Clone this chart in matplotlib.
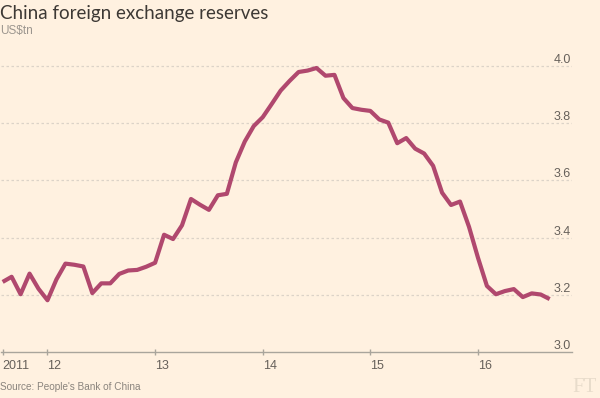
import matplotlib
matplotlib.use("Agg")
import matplotlib.pyplot as plt
from matplotlib import font_manager
import matplotlib.transforms as mtransforms

# China FX reserves, US$tn, month-end, Jul 2011 - Aug 2016
reserves = [
    3.245, 3.263, 3.202, 3.274, 3.221, 3.181,
    3.254, 3.309, 3.305, 3.299, 3.206, 3.240, 3.240, 3.273, 3.285, 3.287, 3.298, 3.312,
    3.410, 3.395, 3.443, 3.535, 3.515, 3.497, 3.548, 3.553, 3.663, 3.736, 3.790, 3.821,
    3.867, 3.914, 3.948, 3.979, 3.984, 3.993, 3.966, 3.969, 3.888, 3.853, 3.847, 3.843,
    3.813, 3.802, 3.730, 3.748, 3.711, 3.694, 3.651, 3.557, 3.514, 3.526, 3.438, 3.330,
    3.231, 3.202, 3.213, 3.220, 3.192, 3.205, 3.201, 3.185,
]
first_month = 7  # July 2011, plotted at the start of the following month
x_ticks = [2011 + 7 / 12, 2012, 2013, 2014, 2015, 2016]
x_labels = ["2011", "12", "13", "14", "15", "16"]
y_ticks = [3.0, 3.2, 3.4, 3.6, 3.8, 4.0]

names = {f.name for f in font_manager.fontManager.ttflist}
font = "Liberation Sans Narrow" if "Liberation Sans Narrow" in names else "Liberation Sans"
title_font = "Lato" if "Lato" in names else "DejaVu Sans"

bg = "#fff1e0"
W, H = 600, 398
fig = plt.figure(figsize=(6, 3.98), dpi=100, facecolor=bg)
ax = fig.add_axes([1 / W, (H - 352) / H, 571 / W, (352 - 37.4) / H])
ax.set_facecolor(bg)

xs = [2011 + (first_month + i) / 12 for i in range(len(reserves))]
ax.plot(xs, reserves, color="#b0486e", lw=3.0, solid_joinstyle="round",
        solid_capstyle="butt", zorder=3)

ax.set_xlim(2011.568, 2016.874)
ax.set_ylim(3.0, 4.1)

for s in ["top", "right", "left"]:
    ax.spines[s].set_visible(False)
ax.spines["bottom"].set_color("#a9a59c")
ax.spines["bottom"].set_linewidth(1.0)

ax.set_yticks([])
ax.set_xticks(x_ticks)
ax.set_xticklabels([])
ax.tick_params(axis="x", length=4, width=1, color="#a9a59c", direction="inout")

for yv in y_ticks[1:]:
    ax.axhline(yv, color="#dcd3c8", lw=0.9, ls=(0, (2, 2)), zorder=1)

ytrans = mtransforms.blended_transform_factory(ax.transAxes, ax.transData)
for yv in y_ticks:
    ax.text(0.9975, yv, f"{yv:.1f}", transform=ytrans, ha="right", va="bottom",
            fontsize=9, color="#66605a", family=font)

xtrans = mtransforms.blended_transform_factory(ax.transData, fig.transFigure)
for xv, lab in zip(x_ticks, x_labels):
    ax.text(xv, 1 - 366 / H, lab, transform=xtrans, ha="left", va="center",
            fontsize=9, color="#66605a", family=font)

fig.text(0 / W, 1 - 13 / H, "China foreign exchange reserves", ha="left", va="center",
         fontsize=13.5, color="#3d3935", family=title_font, weight="normal")
fig.text(0 / W, 1 - 31 / H, "US$tn", ha="left", va="center",
         fontsize=8.5, color="#9c968f", family=font)
fig.text(0 / W, 1 - 387 / H, "Source: People's Bank of China", ha="left", va="center",
         fontsize=7.2, color="#8a847d", family=font)
fig.text(597 / W, 1 - 387 / H, "FT", ha="right", va="center",
         fontsize=15, color="#e8dccb", family="Liberation Serif")

fig.savefig("out.png", dpi=100, facecolor=bg)
